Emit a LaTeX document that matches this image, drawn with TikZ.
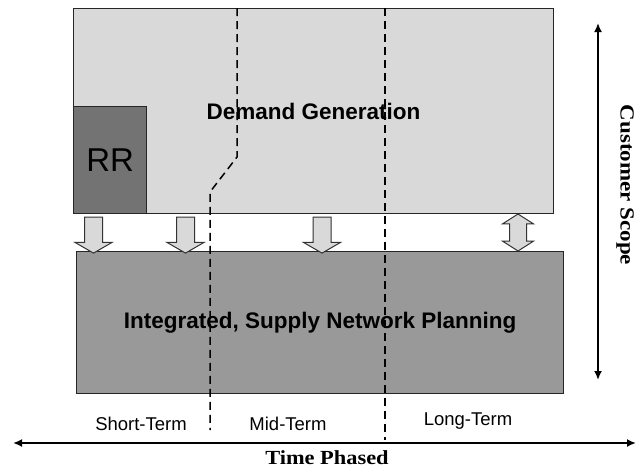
\documentclass[tikz,border=0pt]{standalone}
\usepackage{fontspec}
\usepackage{graphicx}
\setmainfont{Liberation Sans}
\newfontfamily\timesfont{Liberation Serif}
\usetikzlibrary{shapes.arrows,arrows.meta}

\tikzset{
  box/.style={draw=black!85, line width=1.2pt, inner sep=0pt},
  boxtext/.style={font=\bfseries\fontsize{22.5pt}{26pt}\selectfont},
  termtext/.style={font=\fontsize{18.5pt}{22pt}\selectfont},
  axistext/.style={font=\timesfont\bfseries\fontsize{20pt}{24pt}\selectfont, inner sep=0pt},
  flowdown/.style={single arrow, draw=black!80, fill=black!15, line width=1pt,
    rotate=-90, inner xsep=0pt, inner ysep=8.5pt, minimum width=0pt,
    single arrow head extend=9.5pt, single arrow tip angle=120, minimum height=36pt},
  flowboth/.style={double arrow, draw=black!80, fill=black!15, line width=1pt,
    rotate=-90, inner xsep=0pt, inner ysep=8pt, minimum width=0pt,
    double arrow head extend=7pt, double arrow tip angle=115, minimum height=37pt},
  phase/.style={black, line width=1.5pt, dash pattern=on 8pt off 5pt},
  axis/.style={line width=2.5pt, {Latex[length=9pt,width=8pt]}-{Latex[length=9pt,width=8pt]}}
}

\begin{document}
\begin{tikzpicture}[x=1pt,y=-1pt]
	\useasboundingbox (0,0) rectangle (636,469);
	% the two planning layers
	\node[box, fill=black!15, minimum width=480pt, minimum height=205pt, anchor=north west, boxtext] (dg) at (73,8) {Demand Generation};
	\node[box, fill=black!55, minimum width=73pt, minimum height=107pt, anchor=south west, font=\fontsize{33pt}{36pt}\selectfont] (rr) at (dg.south west) {RR};
	\node[box, fill=black!40, minimum width=487pt, minimum height=142pt, anchor=north west, boxtext] (isnp) at (76,251) {Integrated, Supply Network Planning};
	% time phases
	\coordinate (p1top) at (237,8);
	\coordinate (p1bend) at (237,157);
	\coordinate (p1knee) at (210,192);
	\coordinate (p1end) at (210,430);
	\coordinate (p2top) at (385,8);
	\coordinate (p2end) at (385,440);
	\draw[phase] (p1top) -- (p1bend) -- (p1knee) -- (p1end);
	\draw[phase] (p2top) -- (p2end);
	% links between the layers
	\node[flowdown] (f1) at (93.5,232.5) {};
	\node[flowdown] (f2) at (185.5,232.5) {};
	\node[flowdown] (f3) at (322,232.5) {};
	\node[flowboth] (f4) at (518,232.5) {};
	% axes
	\coordinate (scopetop) at (598,23);
	\coordinate (scopebot) at (598,380);
	\draw[axis] (scopetop) -- (scopebot);
	\node[axistext, rotate=-90] (scope) at (625,185) {\scalebox{1.15}[1]{Customer Scope}};
	\coordinate (timeleft) at (13,443);
	\coordinate (timeright) at (636,443);
	\draw[axis] (timeleft) -- (timeright);
	\node[axistext] (time) at (327,458) {\scalebox{1.12}[1]{Time Phased}};
	\node[termtext] (short) at (141,424) {Short-Term};
	\node[termtext] (mid) at (288,424) {Mid-Term};
	\node[termtext] (long) at (468,421) {Long-Term};
\end{tikzpicture}
\end{document}
